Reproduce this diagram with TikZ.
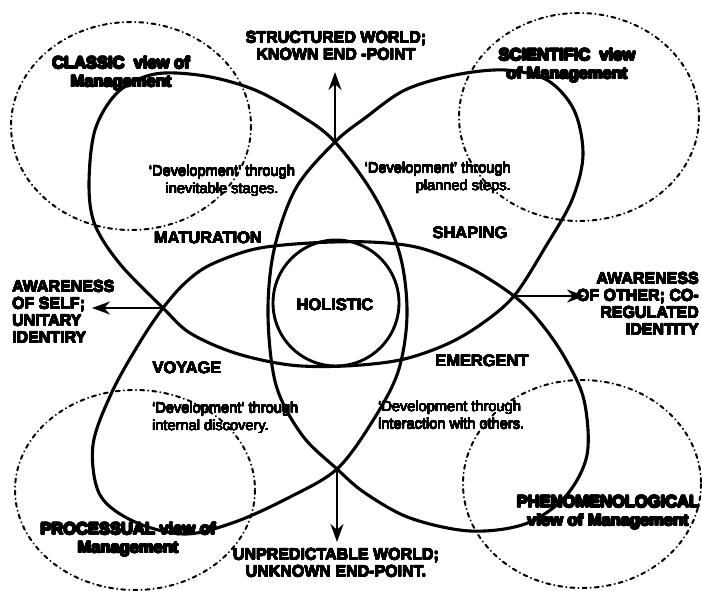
\documentclass[tikz,border=0pt]{standalone}
\usepackage{fontspec}
\setmainfont{Liberation Sans}
\usepackage{contour}
\contourlength{0.8pt}
\newcommand{\heavy}[1]{\contour{black}{#1}}
\newcommand{\firm}[1]{{\contourlength{0.2pt}\contour{black}{#1}}}
\usepackage{tikz}
\usetikzlibrary{arrows.meta}

\begin{document}
\begin{tikzpicture}[
  x=1pt, y=-1pt,
  petal/.style={line width=3.1pt, line join=round},
  ring/.style={draw, circle, line width=2.9pt, minimum size=126pt, inner sep=0pt},
  viewring/.style={line width=2pt, line cap=round, dash pattern=on 4pt off 4pt on 0.2pt off 4pt},
  arr/.style={-{Stealth[length=18pt,width=13pt]}, line width=2.6pt},
  polelabel/.style={font=\bfseries\fontsize{16}{17}\selectfont, inner sep=0pt},
  stagelabel/.style={font=\bfseries\fontsize{16.4}{18}\selectfont, inner sep=0pt},
  devtext/.style={font=\fontsize{14.6}{17.5}\selectfont, inner sep=0pt},
  viewlabel/.style={font=\bfseries\fontsize{16.5}{18.5}\selectfont, align=center, inner sep=0pt}
]
  \fill[white] (0,0) rectangle (702,591);
  \useasboundingbox (0,0) rectangle (702,591);

  \draw[viewring] (131,126) ellipse [x radius=120, y radius=104];
  \draw[viewring] (579,117) ellipse [x radius=120, y radius=104];
  \draw[viewring] (135,490) ellipse [x radius=120, y radius=100];
  \draw[viewring] (582,484) ellipse [x radius=119, y radius=104];

  \coordinate (crossN) at (335,142);
  \coordinate (crossS) at (337,469);
  \coordinate (crossW) at (163,308);
  \coordinate (crossE) at (514,296);

  \draw[petal] plot[smooth cycle, tension=0.55] coordinates {
    (crossE) (546,246) (572,200) (583,155) (574,110) (547,80) (505,70) (455,75) (405,90) (365,118)
    (crossN) (296,188) (274,250) (268,315) (276,385) (302,435)
    (crossS) (365,493) (410,518) (470,531) (525,524) (565,497) (587,455) (584,400) (565,358) (540,322)
    (crossE) (470,268) (420,248) (370,242) (310,243) (255,249) (210,265) (185,283)
    (crossW) (140,342) (112,392) (93,445) (100,495) (135,522) (185,534) (235,522) (290,497)
    (crossS) (372,422) (398,372) (407,315) (400,255) (375,197)
    (crossN) (300,115) (255,90) (205,76) (155,74) (118,92) (95,130) (89,185) (95,225) (120,264)
    (crossW) (190,333) (235,353) (290,365) (345,366) (400,360) (445,345) (480,325)
  };

  \node[ring] (holistic) at (336,303) {};
  \node[stagelabel] (holtext) at (335,305) {\firm{HOLISTIC}};

  \coordinate (upend) at (335,72);
  \coordinate (downend) at (337,542);
  \coordinate (leftend) at (92,308);
  \coordinate (rightend) at (585,296);
  \draw[arr] (crossN) -- (upend);
  \draw[arr] (crossS) -- (downend);
  \draw[arr] (crossW) -- (leftend);
  \draw[arr] (crossE) -- (rightend);

  \node[polelabel, align=center] (structured) at (336,46) {\firm{STRUCTURED WORLD;}\\\firm{KNOWN END -POINT}};
  \node[polelabel, align=center] (unpredictable) at (336,563) {\firm{UNPREDICTABLE WORLD;}\\\firm{UNKNOWN END-POINT.}};
  \node[polelabel, align=left, anchor=west] (self) at (12,312) {\firm{AWARENESS}\\\firm{OF SELF;}\\\firm{UNITARY}\\\firm{IDENTIRY}};
  \node[polelabel, align=right, anchor=east] (other) at (699,304) {\firm{AWARENESS}\\\firm{OF OTHER; CO-}\\\firm{REGULATED}\\\firm{IDENTITY}};

  \node[stagelabel] (maturation) at (208,238) {\firm{MATURATION}};
  \node[stagelabel] (shaping) at (470,233) {\firm{SHAPING}};
  \node[stagelabel] (voyage) at (187,368) {\firm{VOYAGE}};
  \node[stagelabel] (emergent) at (482,361) {\firm{EMERGENT}};

  \node[devtext, align=center] (inevitable) at (222,181) {\firm{‘Development’ through}\\\firm{inevitable stages.}};
  \node[devtext, align=right, anchor=east] (planned) at (511,178) {\firm{‘Development’ through}\\\firm{planned steps.}};
  \node[devtext, align=left, anchor=west] (internal) at (152,418) {\firm{‘Development’ through}\\\firm{internal discovery.}};
  \node[devtext, align=left, anchor=west] (interaction) at (378,415) {\firm{‘Development through}\\\firm{interaction with others.}};

  \node[viewlabel] (classic) at (121,74) {\heavy{CLASSIC\ \ view of}\\\heavy{Management}};
  \node[viewlabel] (scientific) at (567,66) {\heavy{SCIENTIFIC\ \ view}\\\heavy{of Management}};
  \node[viewlabel] (processual) at (128,540) {\heavy{PROCESSUAL view of}\\\heavy{Management}};
  \node[viewlabel] (phenomenological) at (608,513) {\heavy{PHENOMENOLOGICAL}\\\heavy{view of Management}};
\end{tikzpicture}
\end{document}
